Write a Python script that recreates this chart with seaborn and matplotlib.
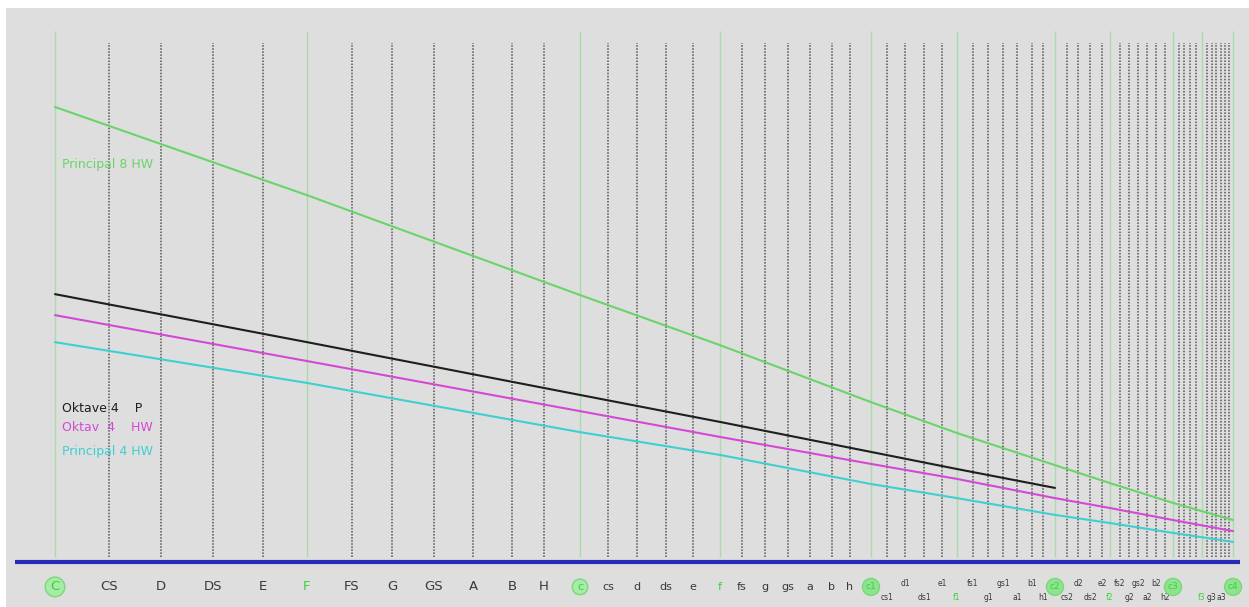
import seaborn as sns
import matplotlib.pyplot as plt
import pandas as pd

# note names along the scale, C up to c4
notes = ['C', 'CS', 'D', 'DS', 'E', 'F', 'FS', 'G', 'GS', 'A', 'B', 'H',
         'c', 'cs', 'd', 'ds', 'e', 'f', 'fs', 'g', 'gs', 'a', 'b', 'h',
         'c1', 'cs1', 'd1', 'ds1', 'e1', 'f1', 'fs1', 'g1', 'gs1', 'a1', 'b1', 'h1',
         'c2', 'cs2', 'd2', 'ds2', 'e2', 'f2', 'fs2', 'g2', 'gs2', 'a2', 'b2', 'h2',
         'c3', 'cs3', 'd3', 'ds3', 'e3', 'f3', 'fs3', 'g3', 'gs3', 'a3', 'b3', 'h3',
         'c4']
# position of each note on the horizontal scale
note_pos = [55, 109, 161, 213, 263, 307, 352, 392, 434, 473, 512, 544,
            580, 608, 637, 666, 693, 720, 742, 765, 788, 810, 832, 850,
            871, 887, 905, 924, 942, 957, 973, 988, 1003, 1017, 1032, 1043,
            1055, 1067, 1078, 1090, 1102, 1110, 1120, 1129, 1138, 1147, 1156, 1165,
            1173, 1179, 1184, 1190, 1196, 1202, 1207, 1212, 1216, 1221, 1225, 1229,
            1233]

# scaling values (mm) at C and F of every octave
anchor = ['C', 'F', 'c', 'f', 'c1', 'f1', 'c2', 'f2', 'c3', 'c4']
principal8_hw = [151.7, 122.3, 89.0, 72.3, 53.3, 43.0, 32.3, 26.3, 19.7, 14.0]
oktave4_p = [89.3, 73.3, 55.7, 46.7, 36.7, 31.0, 24.7]
oktav4_hw = [82.3, 67.0, 50.3, 41.7, 32.7, 27.7, 21.3, 18.0, 14.0, 10.3]
principal4_hw = [73.3, 59.7, 43.3, 35.7, 26.0, 21.3, 15.7, 13.0, 9.7, 6.7]

series = {'Principal 8 HW': principal8_hw, 'Oktave 4 P': oktave4_p,
          'Oktav 4 HW': oktav4_hw, 'Principal 4 HW': principal4_hw}
colors = {'Principal 8 HW': '#6ad46a', 'Oktave 4 P': '#1e1e1e',
          'Oktav 4 HW': '#d548d5', 'Principal 4 HW': '#3fcfcf'}

pos = dict(zip(notes, note_pos))
rows = []
for name, vals in series.items():
    for n, v in zip(anchor, vals):
        rows.append({'reg': name, 'x': pos[n], 'mm': v})
df = pd.DataFrame(rows)

c_notes = ('C', 'c', 'c1', 'c2', 'c3', 'c4')
f_notes = ('F', 'f', 'f1', 'f2', 'f3')

sns.set_style('white')
plt.rcParams['font.family'] = ['DejaVu Sans']

fig = plt.figure(figsize=(12.49, 6.07), dpi=100, facecolor='white')
ax = fig.add_axes([6 / 1249, 0, 1 - 6 / 1249, 1 - 8 / 607])
ax.set_facecolor('#dedede')
ax.set_xlim(6, 1249)
ax.set_ylim(-15, 184.7)
for s in ax.spines.values():
    s.set_visible(False)
ax.set_xticks([])
ax.set_yticks([])

# vertical note lines
for n, x in zip(notes, note_pos):
    if n in c_notes or n in f_notes:
        ax.vlines(x, 1.7, 177, color='#a9dca9', lw=1.0, zorder=1)
    else:
        ax.vlines(x, 1.7, 173, color='#555555', lw=1.1,
                  linestyles=(0, (1, 1)), zorder=1)

sns.lineplot(data=df, x='x', y='mm', hue='reg', palette=colors, ax=ax,
             sort=False, legend=False, lw=1.5, zorder=3)
ax.set_xlabel('')
ax.set_ylabel('')

# base line
ax.hlines(0, 15, 1240, color='#2a2ab8', lw=3, zorder=4)

# register names
ax.text(62, 132.5, 'Principal 8 HW', color=colors['Principal 8 HW'], fontsize=9, va='center')
ax.text(62, 51.3, 'Oktave 4    P', color=colors['Oktave 4 P'], fontsize=9, va='center')
ax.text(62, 45.0, 'Oktav  4    HW', color=colors['Oktav 4 HW'], fontsize=9, va='center')
ax.text(62, 36.7, 'Principal 4 HW', color=colors['Principal 4 HW'], fontsize=9, va='center')

# note labels
for i, (n, x) in enumerate(zip(notes, note_pos)):
    is_c = n in c_notes
    is_f = n in f_notes
    col = '#3ccf3c' if (is_c or is_f) else '#3a3a3a'
    label = n
    pad = 0.25
    if i < 12:
        fs, y = 9.5, -8.3
    elif i < 24:
        fs, y = 8, -8.3
    else:
        if i >= 48 and n not in ('c3', 'f3', 'g3', 'a3', 'c4'):
            continue
        fs = 5.5
        y = -7.0 if i % 2 == 0 else -11.7
        if n == 'a3':
            y = -11.7
        if is_c:
            y = -8.3
            fs = 6.5
            pad = 0.35
    bbox = None
    if is_c:
        bbox = dict(boxstyle='circle,pad=%.2f' % pad,
                    fc='#a6eba6' if i < 24 else '#8ee48e', ec='#7ad87a', lw=1.0)
    ax.text(x, y, label, color=col, fontsize=fs, ha='center', va='center',
            bbox=bbox, zorder=5)

fig.savefig('out.png', dpi=100, facecolor=fig.get_facecolor())
